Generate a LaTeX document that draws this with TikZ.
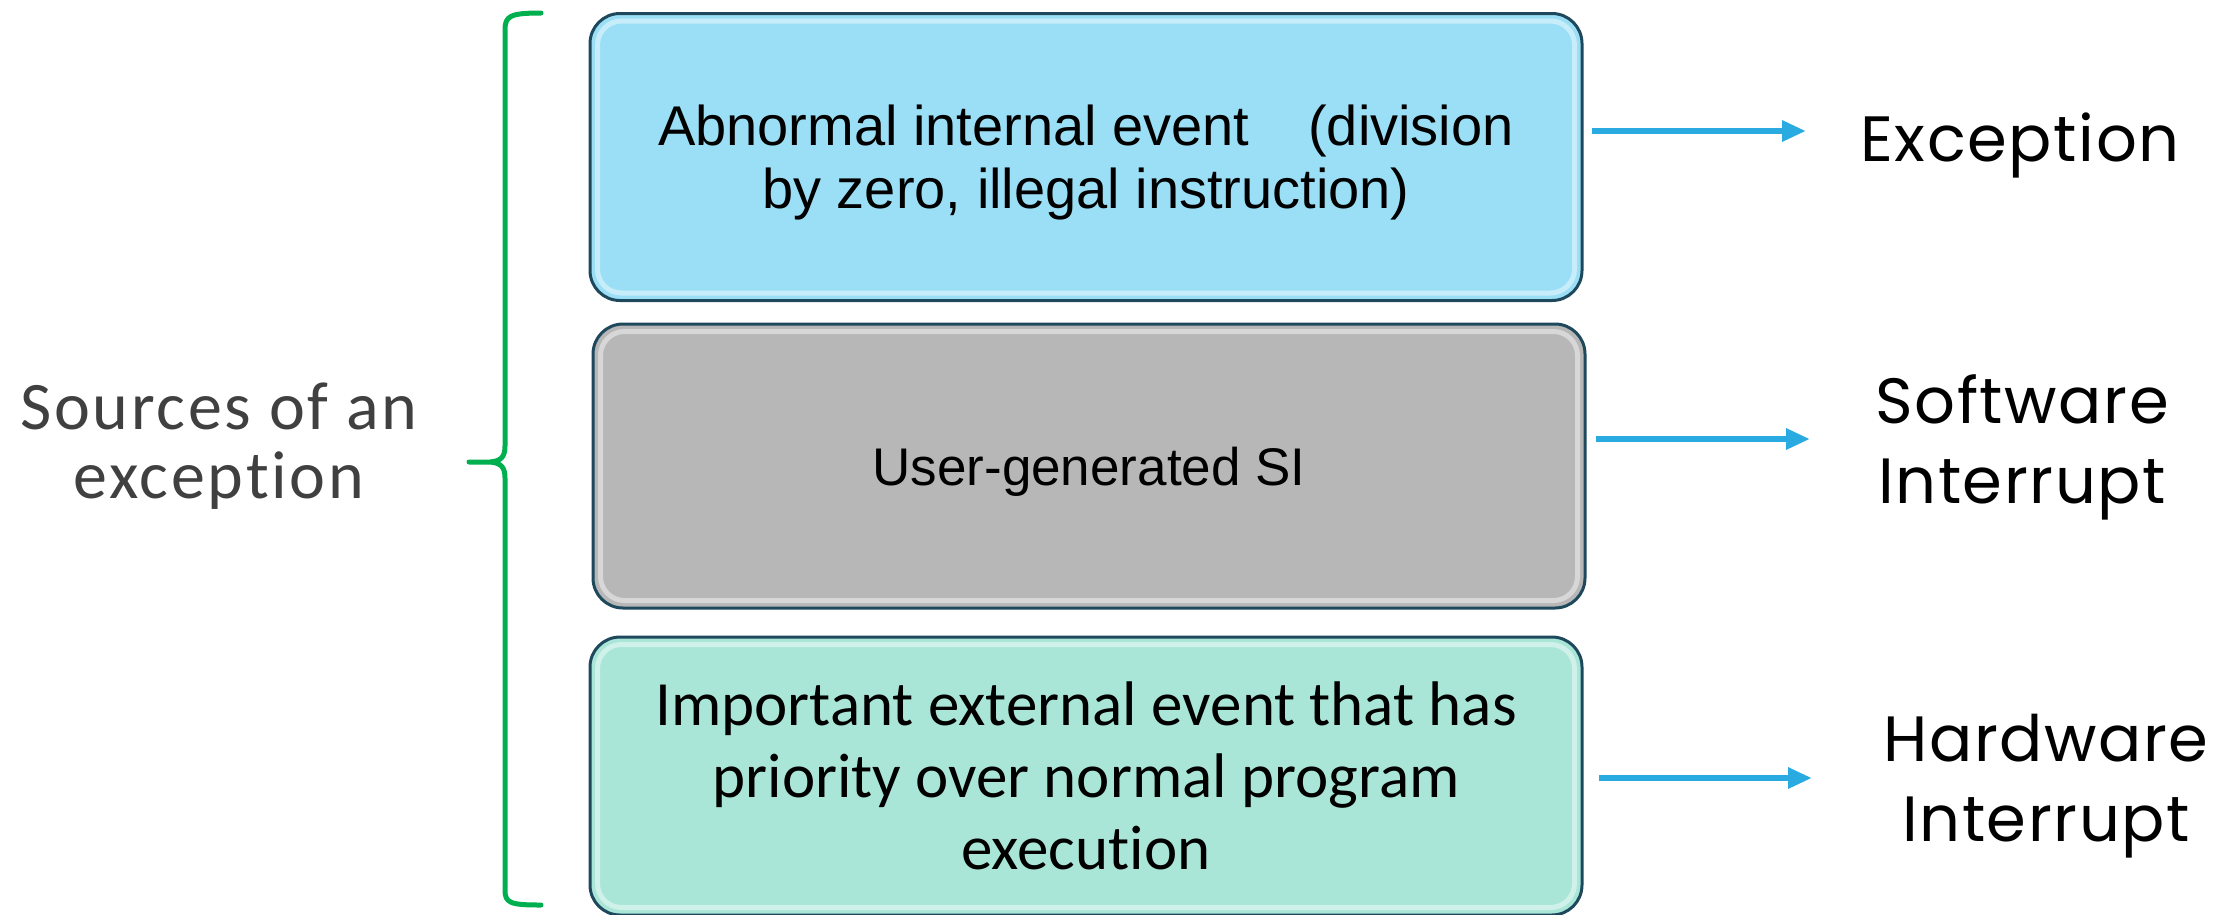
\documentclass[tikz,border=0pt]{standalone}
\usepackage{fontspec}
\setmainfont{Liberation Sans}
\newfontfamily\calfont{Carlito}[Ligatures=NoCommon]
\newfontfamily\srcfont{Carlito}[LetterSpace=4,Ligatures=NoCommon]
\newfontfamily\labfont{Poppins}[LetterSpace=2.5]
\usetikzlibrary{arrows.meta,calc}
\definecolor{boxA}{RGB}{155,223,246}
\definecolor{boxB}{RGB}{183,183,183}
\definecolor{boxC}{RGB}{170,230,215}
\definecolor{boxline}{RGB}{30,72,92}
\definecolor{arrowc}{RGB}{41,171,226}
\definecolor{bracec}{RGB}{0,176,80}
\definecolor{srcgray}{RGB}{64,64,64}
\begin{document}
\begin{tikzpicture}[x=1pt,y=-1pt,
  srcbox/.style={draw=boxline, line width=3pt, rounded corners=30pt,
    minimum width=992pt, inner sep=0pt, align=center, text=black},
  shine/.style={white, opacity=.45, line width=5pt, rounded corners=24pt},
  arr/.style={draw=arrowc, line width=6pt, -{Triangle[length=24pt,width=20pt]}},
  lab/.style={inner sep=0pt, align=center, font=\labfont\fontsize{64}{80}\selectfont},
]
\useasboundingbox (0,0) rectangle (2229,914);
\clip (0,0) rectangle (2229,914);

% boxes
\node[srcbox, fill=boxA, minimum height=287pt, text depth=-14pt,
  font=\fontsize{56}{63}\selectfont] (b1) at (1086,157)
  {Abnormal internal event\hspace{1.05em}(division\\by zero, illegal instruction)};
\node[srcbox, fill=boxB, minimum height=284pt, text depth=-6pt,
  font=\fontsize{53}{60}\selectfont] (b2) at (1089,466)
  {User-generated SI};
\node[srcbox, fill=boxC, minimum height=278pt,
  font=\calfont\fontsize{63}{72}\selectfont] (b3) at (1086,776)
  {Important external event that has\\priority over normal program\\execution};

\foreach \b in {b1,b2,b3}{
  \draw[shine] ([shift={(9pt,9pt)}]\b.south west) rectangle ([shift={(-9pt,-9pt)}]\b.north east);
}

% left label and brace
\node[inner sep=0pt, align=center, text=srcgray,
  font=\srcfont\fontsize{68}{69}\selectfont] (src) at (219,446)
  {Sources of an\\exception};
\coordinate (bt) at (541,13);
\coordinate (bb) at (541,905);
\coordinate (tip) at (469,462);
\draw[bracec, line width=5pt, line cap=round, line join=round]
  (bt) .. controls (510,13) and (505,16) .. (505,30) -- (505,446)
  .. controls (505,458) and (500,461) .. (490,462) -- (tip)
  -- (490,462) .. controls (500,463) and (505,466) .. (505,478) -- (505,890)
  .. controls (505,903) and (510,905) .. (bb);

% right labels
\node[lab, anchor=base] (l1) at (2020,161) {Exception};
\node[lab, anchor=north] (l2) at (2022,374) {Software\\Interrupt};
\node[lab, anchor=north] (l3) at (2046,714) {Hardware\\Interrupt};

% arrows
\coordinate (a1s) at (1592,131); \coordinate (a1e) at (1806,131);
\coordinate (a2s) at (1596,439); \coordinate (a2e) at (1810,439);
\coordinate (a3s) at (1599,778); \coordinate (a3e) at (1812,778);
\draw[arr] (a1s) -- (a1e);
\draw[arr] (a2s) -- (a2e);
\draw[arr] (a3s) -- (a3e);
\end{tikzpicture}
\end{document}
